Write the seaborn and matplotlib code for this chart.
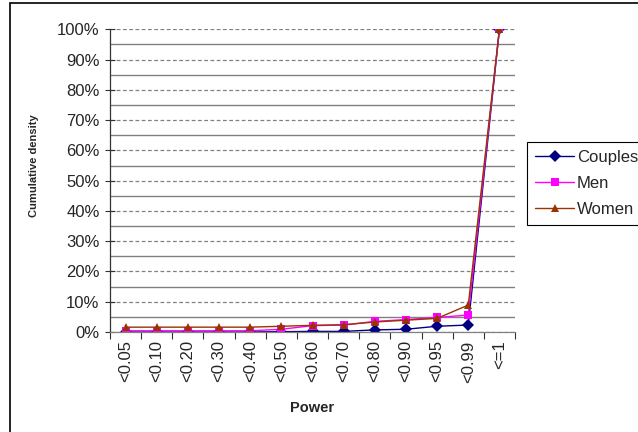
import numpy as np
import pandas as pd
import matplotlib
matplotlib.use("Agg")
import matplotlib.pyplot as plt
import seaborn as sns
from matplotlib.patches import Rectangle
from matplotlib.lines import Line2D
from matplotlib.ticker import FixedLocator, FuncFormatter, MultipleLocator

categories = ["<0.05", "<0.10", "<0.20", "<0.30", "<0.40", "<0.50", "<0.60",
              "<0.70", "<0.80", "<0.90", "<0.95", "<0.99", "<=1"]
couples = [0.0, 0.0, 0.0, 0.0, 0.0, 0.1, 0.2, 0.2, 0.7, 0.9, 1.9, 2.3, 100.0]
men = [0.4, 0.4, 0.4, 0.4, 0.4, 0.9, 2.1, 2.3, 3.5, 4.1, 4.8, 5.6, 100.0]
women = [1.6, 1.6, 1.6, 1.6, 1.6, 1.9, 2.2, 2.4, 3.3, 3.9, 4.5, 8.9, 100.0]
series_names = ["Couples", "Men", "Women"]

rows = []
for name, vals in zip(series_names, [couples, men, women]):
    for i, (c, v) in enumerate(zip(categories, vals)):
        rows.append({"pos": i, "cat": c, "value": v / 100.0, "series": name})
df = pd.DataFrame(rows)

sns.set_style("white")
plt.rcParams["font.family"] = ["Liberation Sans", "DejaVu Sans"]

fig = plt.figure(figsize=(6.38, 4.32), dpi=100)
ax = fig.add_axes([110 / 638, 1 - 332 / 432, 405 / 638, (332 - 29.3) / 432])

palette = {"Couples": "#000080", "Men": "#FF00FF", "Women": "#993300"}
markers = {"Couples": "D", "Men": "s", "Women": "^"}
sns.lineplot(data=df, x="pos", y="value", hue="series", style="series",
             hue_order=series_names, style_order=series_names,
             palette=palette, markers=markers, dashes=False,
             markersize=6, linewidth=1, markeredgewidth=0, ax=ax, legend=False)

ax.set_xlim(-0.5, len(categories) - 0.5)
ax.set_ylim(0, 1.0)

# y axis
ax.yaxis.set_major_locator(MultipleLocator(0.1))
ax.yaxis.set_minor_locator(MultipleLocator(0.05))
ax.yaxis.set_major_formatter(FuncFormatter(lambda v, p: f"{v*100:.0f}%"))
ax.tick_params(axis="y", which="major", direction="inout", length=7, width=0.8,
               color="#333333", labelsize=12, pad=4, left=True)
ax.tick_params(axis="y", which="minor", length=0)
ax.grid(False)
ax.yaxis.grid(True, which="major", linestyle=(0, (3, 2)), color="#808080", linewidth=0.9)
ax.yaxis.grid(True, which="minor", linestyle="-", color="#808080", linewidth=1.0)

# x axis
ax.set_xticks(np.arange(len(categories)))
ax.set_xticklabels(categories, rotation=90, fontsize=12)
ax.xaxis.set_minor_locator(FixedLocator(np.arange(len(categories) + 1) - 0.5))
ax.tick_params(axis="x", which="major", length=0, pad=6, bottom=True)
ax.tick_params(axis="x", which="minor", direction="out", length=5, width=0.8,
               color="#333333", bottom=True)

for s in ["top", "right"]:
    ax.spines[s].set_visible(False)
ax.spines["left"].set_color("#333333")
ax.spines["bottom"].set_color("#808080")
ax.spines["left"].set_linewidth(0.9)
ax.spines["bottom"].set_linewidth(0.9)

xl = ax.set_xlabel("Power", fontsize=10.5, fontweight="bold")
xl.set_va("center")
ax.xaxis.set_label_coords((312 - 110) / 405, (332 - 408) / 302.7)
yl = ax.set_ylabel("Cumulative density", fontsize=8, fontweight="bold")
yl.set_va("center")
ax.yaxis.set_label_coords((34 - 110) / 405, (332 - 166) / 302.7)

# legend
handles = [Line2D([], [], color=palette[n], marker=markers[n], markersize=6,
                  markeredgewidth=0, linewidth=1) for n in series_names]
leg = fig.legend(handles, series_names, loc="upper left",
                 bbox_to_anchor=(527 / 638, 1 - 142 / 432), fontsize=12,
                 frameon=True, fancybox=False, framealpha=1, edgecolor="black",
                 borderpad=0.5, labelspacing=0.65, handlelength=2.3,
                 handletextpad=0.2, borderaxespad=0)
leg.get_frame().set_linewidth(0.8)

# outer chart border
fig.patches.append(Rectangle((10 / 638, -0.1), 1.2, 1.1 - 3 / 432,
                             transform=fig.transFigure, fill=False,
                             edgecolor="black", linewidth=1.2, clip_on=False))

fig.savefig("out.png", dpi=100)
